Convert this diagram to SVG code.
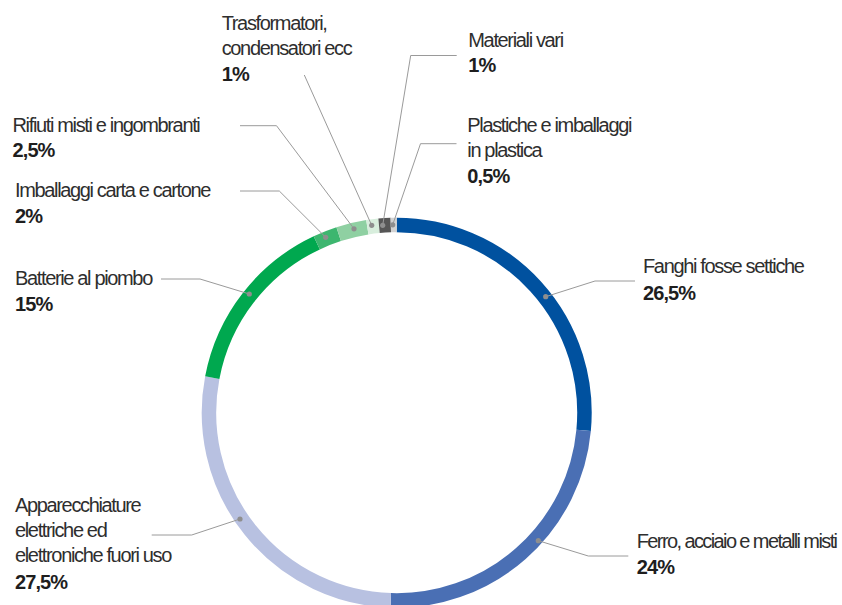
<svg xmlns="http://www.w3.org/2000/svg" width="842" height="605" viewBox="0 0 842 605">
<style>
  text { font-family: "Liberation Sans", Arial, sans-serif; font-size: 20px; fill: #2e2e2e; letter-spacing: -1.35px; }
  text .b { font-weight: bold; fill: #1e1e1e; letter-spacing: -0.9px; }
  .seg { fill: none; stroke-width: 14.5; }
  .lead { fill: none; stroke: #9a9a9a; stroke-width: 1; }
  .dot { fill: #8e8e8e; }
</style>
<rect width="842" height="605" fill="#ffffff"/>
<g id="ring">
  <g id="seg-fanghi"><path class="seg" stroke="#00519f" d="M396.7,224.95 A187.75,187.75 0 0 1 583.62,430.37"/></g>
  <g id="seg-ferro"><path class="seg" stroke="#4a6fb4" d="M583.62,430.37 A187.75,187.75 0 0 1 390.80,600.36"/></g>
  <g id="seg-apparecchiature"><path class="seg" stroke="#b8c1e1" d="M390.80,600.36 A187.75,187.75 0 0 1 212.28,377.52"/></g>
  <g id="seg-batterie"><path class="seg" stroke="#00a84f" d="M212.28,377.52 A187.75,187.75 0 0 1 316.76,242.82"/></g>
  <g id="seg-imballaggi"><path class="seg" stroke="#3db66f" d="M316.76,242.82 A187.75,187.75 0 0 1 338.68,234.14"/></g>
  <g id="seg-rifiuti"><path class="seg" stroke="#8fd0a2" d="M338.68,234.14 A187.75,187.75 0 0 1 367.33,227.26"/></g>
  <g id="seg-trasformatori"><path class="seg" stroke="#d8eedd" d="M367.33,227.26 A187.75,187.75 0 0 1 379.03,225.78"/></g>
  <g id="seg-materiali"><path class="seg" stroke="#565656" d="M379.03,225.78 A187.75,187.75 0 0 1 390.80,225.04"/></g>
  <g id="seg-plastiche"><path class="seg" stroke="#d2d2d2" d="M390.80,225.04 A187.75,187.75 0 0 1 396.7,224.95"/></g>
</g>
<g id="connectors">
  <polyline class="lead" points="635,281 595,281 545.7,296.7"/>
  <polyline class="lead" points="628.3,556 588.3,556 538.3,540.7"/>
  <polyline class="lead" points="151.7,535 191.7,535 240,519"/>
  <polyline class="lead" points="161,279 200,279 249.3,294"/>
  <polyline class="lead" points="240,191 279.3,191 325.7,237.3"/>
  <polyline class="lead" points="240,125.7 276.5,125.7 354,228.8"/>
  <polyline class="lead" points="304.3,75 371.7,225.3"/>
  <polyline class="lead" points="456.7,55.5 410.7,55.5 382.7,225.3"/>
  <polyline class="lead" points="456.5,143.7 420.5,143.7 392.7,224.8"/>
  <circle class="dot" cx="545.7" cy="296.7" r="2.6"/>
  <circle class="dot" cx="538.3" cy="540.7" r="2.6"/>
  <circle class="dot" cx="240" cy="519" r="2.6"/>
  <circle class="dot" cx="249.3" cy="294" r="2.6"/>
  <circle class="dot" cx="325.7" cy="237.3" r="2.6"/>
  <circle class="dot" cx="354" cy="228.8" r="2.6"/>
  <circle class="dot" cx="371.7" cy="225.3" r="2.6"/>
  <circle class="dot" cx="382.7" cy="225.3" r="2.6"/>
  <circle class="dot" cx="392.7" cy="224.8" r="2.6"/>
</g>
<g id="label-fanghi"><text x="643" y="273.3">Fanghi fosse settiche<tspan class="b" x="643" y="300">26,5%</tspan></text></g>
<g id="label-ferro"><text x="636.7" y="548.3"><tspan textLength="200" lengthAdjust="spacing">Ferro, acciaio e metalli misti</tspan><tspan class="b" x="636.7" y="573.5">24%</tspan></text></g>
<g id="label-apparecchiature"><text x="15" y="512">Apparecchiature<tspan x="15" y="537.2">elettriche ed</tspan><tspan x="15" y="562.3">elettroniche fuori uso</tspan><tspan class="b" x="15" y="589">27,5%</tspan></text></g>
<g id="label-batterie"><text x="15" y="285">Batterie al piombo<tspan class="b" x="15" y="310.7">15%</tspan></text></g>
<g id="label-imballaggi"><text x="15" y="197.3">Imballaggi carta e cartone<tspan class="b" x="15" y="223.3">2%</tspan></text></g>
<g id="label-rifiuti"><text x="12.5" y="131.7">Rifiuti misti e ingombranti<tspan class="b" x="12.5" y="156.7">2,5%</tspan></text></g>
<g id="label-trasformatori"><text x="221.7" y="30">Trasformatori,<tspan x="221.7" y="55">condensatori ecc</tspan><tspan class="b" x="221.7" y="80.5">1%</tspan></text></g>
<g id="label-materiali"><text x="468.3" y="46.7">Materiali vari<tspan class="b" x="468.3" y="71.7">1%</tspan></text></g>
<g id="label-plastiche"><text x="467.3" y="132.3">Plastiche e imballaggi<tspan x="467.3" y="157.3">in plastica</tspan><tspan class="b" x="467.3" y="183.3">0,5%</tspan></text></g>
</svg>
